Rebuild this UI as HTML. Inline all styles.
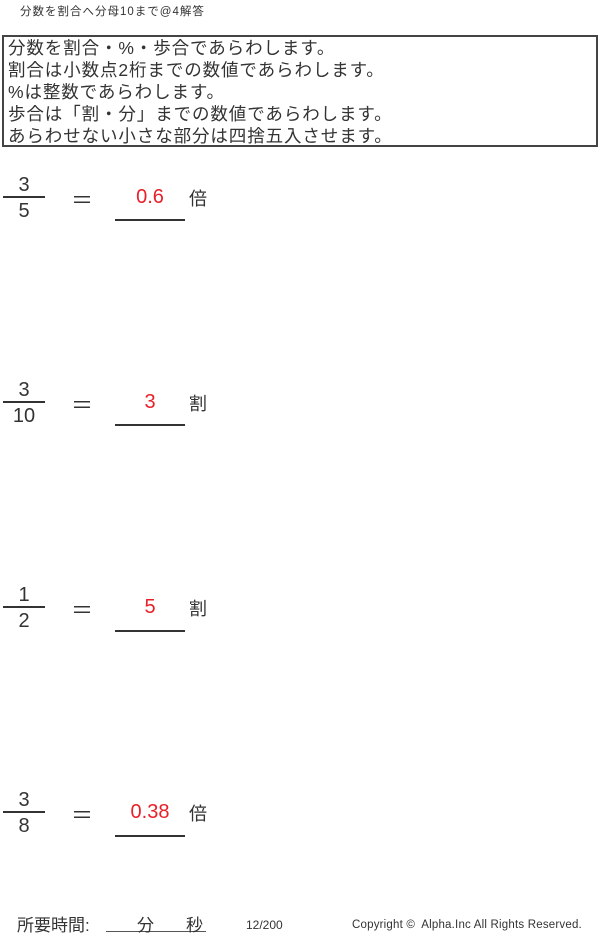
<!DOCTYPE html>
<html><head><meta charset="utf-8"><style>
body{margin:0;width:600px;height:938px;background:#fff;position:relative;overflow:hidden;font-family:"Liberation Sans","Noto Sans CJK JP",sans-serif;color:#333}
.a{position:absolute;white-space:nowrap}
.box{position:absolute;left:2px;top:35px;width:588px;height:108px;border:2px solid #444;padding:0 0 0 4px;font-size:17.5px;line-height:22px;letter-spacing:0.9px}
.n{font-size:20px;width:42px;text-align:center;left:3px}
.bar{position:absolute;left:3px;width:42px;height:1.5px;background:#333}
.eq{font-size:22px;left:71px}
.ans{font-size:20px;color:#e8202a;width:70px;text-align:center;left:115px}
.ul{position:absolute;left:115px;width:70px;height:1.5px;background:#333}
.u{font-size:18px;left:189px}
</style></head><body>
<div class="a" style="left:20px;top:3px;font-size:11.5px;letter-spacing:1px">分数を割合へ分母10まで@4解答</div>
<div class="box">分数を割合・%・歩合であらわします。<br>割合は小数点2桁までの数値であらわします。<br>%は整数であらわします。<br>歩合は「割・分」までの数値であらわします。<br>あらわせない小さな部分は四捨五入させます。</div>

<div class="a n" style="top:174px">3</div><div class="bar" style="top:196px"></div><div class="a n" style="top:200px">5</div>
<div class="a eq" style="top:183px">＝</div><div class="a ans" style="top:186px">0.6</div><div class="ul" style="top:219px"></div><div class="a u" style="top:185px">倍</div>

<div class="a n" style="top:379px">3</div><div class="bar" style="top:401px"></div><div class="a n" style="top:405px">10</div>
<div class="a eq" style="top:388px">＝</div><div class="a ans" style="top:391px">3</div><div class="ul" style="top:424px"></div><div class="a u" style="top:390px">割</div>

<div class="a n" style="top:584px">1</div><div class="bar" style="top:606px"></div><div class="a n" style="top:610px">2</div>
<div class="a eq" style="top:593px">＝</div><div class="a ans" style="top:596px">5</div><div class="ul" style="top:630px"></div><div class="a u" style="top:595px">割</div>

<div class="a n" style="top:789px">3</div><div class="bar" style="top:811px"></div><div class="a n" style="top:815px">8</div>
<div class="a eq" style="top:798px">＝</div><div class="a ans" style="top:801px">0.38</div><div class="ul" style="top:835px"></div><div class="a u" style="top:800px">倍</div>

<div class="a" style="left:17px;top:911px;font-size:17px">所要時間:</div>
<div style="position:absolute;left:106px;top:931px;width:100px;height:1px;background:#555"></div>
<div class="a" style="left:137px;top:911px;font-size:17px">分</div>
<div class="a" style="left:186px;top:911px;font-size:17px">秒</div>
<div class="a" style="left:246px;top:918px;font-size:12px">12/200</div>
<div class="a" style="left:352px;top:919px;font-size:11.5px;letter-spacing:0.2px">Copyright ©&nbsp; Alpha.Inc All Rights Reserved.</div>
</body></html>
